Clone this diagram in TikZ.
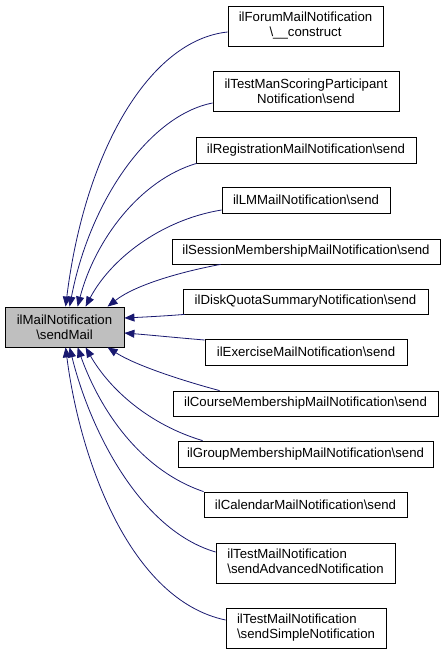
\documentclass[tikz,border=0pt]{standalone}
\usepackage{fontspec}
\setmainfont{Liberation Sans}
\usetikzlibrary{arrows.meta}
\definecolor{edgeblue}{HTML}{191970}
\definecolor{mainfill}{HTML}{BFBFBF}
\begin{document}
\begin{tikzpicture}[x=1pt,y=-1pt,
  box/.style={draw=black,line width=0.8pt,rectangle,inner sep=0pt,fill=white,
    font=\fontsize{13.2}{15}\selectfont,align=center},
  lbox/.style={draw=black,line width=0.8pt,rectangle,inner sep=0pt,fill=white,
    font=\fontsize{13.2}{15}\selectfont},
  edge/.style={draw=edgeblue,line width=0.8pt,
    -{Triangle[length=10pt,width=8pt,fill=edgeblue]}}]
\useasboundingbox (0,0) rectangle (445,655);
\node[box,fill=mainfill,minimum width=119pt,minimum height=40pt] (main) at (64.5,327) {ilMailNotification\\\textbackslash sendMail};
\node[box,minimum width=155pt,minimum height=40pt] (forum) at (305.5,26) {ilForumMailNotification\\\textbackslash\_\_construct};
\node[box,minimum width=186pt,minimum height=40pt] (testman) at (306,91) {ilTestManScoringParticipant\\Notification\textbackslash send};
\node[box,minimum width=220pt,minimum height=26pt] (reg) at (306,150) {ilRegistrationMailNotification\textbackslash send};
\node[box,minimum width=168pt,minimum height=26pt] (lm) at (306,200) {ilLMMailNotification\textbackslash send};
\node[box,minimum width=268pt,minimum height=25pt] (session) at (306,251.5) {ilSessionMembershipMailNotification\textbackslash send};
\node[box,minimum width=245pt,minimum height=25pt] (disk) at (305.5,301.5) {ilDiskQuotaSummaryNotification\textbackslash send};
\node[box,minimum width=202pt,minimum height=26pt] (exercise) at (306,352) {ilExerciseMailNotification\textbackslash send};
\node[box,minimum width=265pt,minimum height=25pt] (course) at (305.5,403.5) {ilCourseMembershipMailNotification\textbackslash send};
\node[box,minimum width=255pt,minimum height=26pt] (group) at (305.5,454) {ilGroupMembershipMailNotification\textbackslash send};
\node[box,minimum width=203pt,minimum height=25pt] (calendar) at (305.5,504.5) {ilCalendarMailNotification\textbackslash send};
\node[lbox,minimum width=179pt,minimum height=40pt] (testadv) at (305.5,563) {\begin{tabular}{@{}l@{}}ilTestMailNotification\\\textbackslash sendAdvancedNotification\end{tabular}};
\node[lbox,minimum width=160pt,minimum height=40pt] (testsimple) at (306,628) {\begin{tabular}{@{}l@{}}ilTestMailNotification\\\textbackslash sendSimpleNotification\end{tabular}};

\draw[edge] ([yshift=-6pt]forum.west) .. controls (150,40) and (85,150) .. ([xshift=61pt]main.north west);
\draw[edge] ([yshift=-12pt]testman.west) .. controls (150,115) and (90,200) .. ([xshift=65pt]main.north west);
\draw[edge] ([xshift=1pt]reg.south west) .. controls (140,180) and (95,240) .. ([xshift=73pt]main.north west);
\draw[edge] ([yshift=-10pt]lm.west) .. controls (160,220) and (110,260) .. ([xshift=81pt]main.north west);
\draw[edge] ([xshift=49pt]session.south west) .. controls (180,272) and (135,285) .. ([xshift=103pt]main.north west);
\draw[edge] ([xshift=2pt]disk.south west) .. controls (165,316) and (145,317) .. ([yshift=9pt]main.east);
\draw[edge] ([yshift=12pt]exercise.west) .. controls (180,338) and (150,335) .. ([yshift=-6pt]main.east);
\draw[edge] ([xshift=47pt]course.north west) .. controls (180,380) and (135,365) .. ([xshift=103pt]main.south west);
\draw[edge] ([xshift=25pt]group.north west) .. controls (150,425) and (110,390) .. ([xshift=81pt]main.south west);
\draw[edge] (calendar.north west) .. controls (140,470) and (100,410) .. ([xshift=73pt]main.south west);
\draw[edge] ([yshift=11pt]testadv.west) .. controls (140,530) and (90,430) .. ([xshift=65pt]main.south west);
\draw[edge] ([yshift=8pt]testsimple.west) .. controls (130,600) and (80,460) .. ([xshift=61pt]main.south west);
\end{tikzpicture}
\end{document}
